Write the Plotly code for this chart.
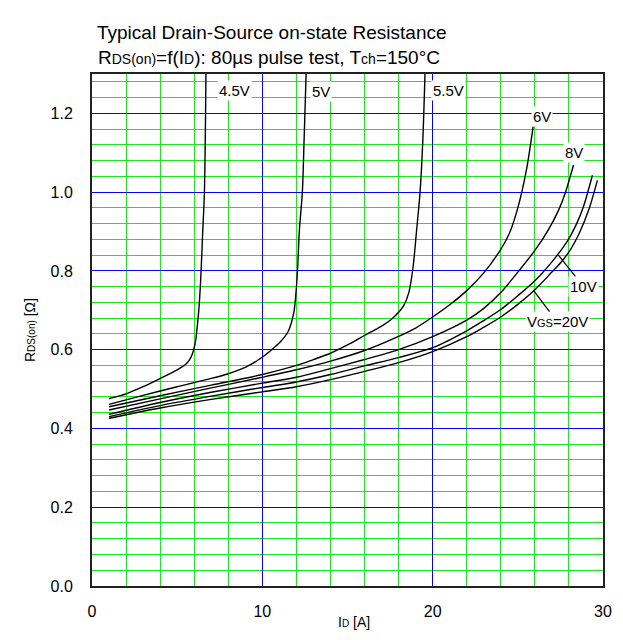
import plotly.graph_objects as go

# ---- data ----
x_45 = [1, 2, 3, 4, 5, 5.5, 5.8, 6.05, 6.25, 6.38, 6.5, 6.6, 6.69]
y_45 = [0.476, 0.488, 0.506, 0.527, 0.549, 0.563, 0.580, 0.615, 0.69, 0.777, 0.9, 1.0, 1.3]

x_5 = [1, 3, 5, 7, 8, 9, 9.8, 10.5, 11.1, 11.5, 11.85, 12.05, 12.17, 12.35, 12.45, 12.57]
y_5 = [0.461, 0.484, 0.506, 0.527, 0.539, 0.555, 0.575, 0.598, 0.622, 0.645, 0.695, 0.790, 0.9, 1.0, 1.13, 1.3]

x_55 = [1, 4, 7, 10, 12, 13, 14, 15, 16, 17, 17.6, 18.0, 18.3, 18.6, 18.85, 19.05, 19.26, 19.42, 19.55]
y_55 = [0.455, 0.483, 0.510, 0.537, 0.560, 0.575, 0.591, 0.612, 0.636, 0.660, 0.678, 0.695, 0.712, 0.745, 0.810, 0.900, 1.0, 1.13, 1.3]

x_6 = [1, 4, 7, 10, 12, 14, 16, 18, 19, 20, 21, 22, 23, 24, 24.5, 25, 25.5, 25.9]
y_6 = [0.447, 0.475, 0.503, 0.530, 0.549, 0.571, 0.598, 0.634, 0.655, 0.683, 0.714, 0.750, 0.795, 0.855, 0.895, 0.960, 1.055, 1.167]

x_8 = [1, 4, 7, 10, 12, 14, 16, 18, 20, 22, 23, 24, 25, 26, 26.8, 27.4, 27.8, 28.27]
y_8 = [0.436, 0.466, 0.492, 0.515, 0.530, 0.552, 0.575, 0.600, 0.633, 0.675, 0.705, 0.745, 0.797, 0.852, 0.905, 0.955, 1.0, 1.069]

x_10 = [1, 4, 7, 10, 12, 14, 16, 18, 20, 22, 23, 24, 25, 26, 27, 27.9, 28.4, 28.85, 29.38]
y_10 = [0.430, 0.458, 0.482, 0.504, 0.518, 0.537, 0.559, 0.580, 0.605, 0.648, 0.674, 0.702, 0.737, 0.775, 0.823, 0.875, 0.915, 0.963, 1.043]

x_20 = [1, 4, 7, 10, 12, 14, 16, 18, 20, 22, 23, 24, 25, 26, 27, 27.5, 28.1, 28.6, 29.2, 29.67]
y_20 = [0.426, 0.452, 0.474, 0.493, 0.506, 0.524, 0.545, 0.567, 0.595, 0.633, 0.657, 0.683, 0.715, 0.752, 0.797, 0.820, 0.855, 0.895, 0.960, 1.03]

series_x = [x_45, x_5, x_55, x_6, x_8, x_10, x_20]
series_y = [y_45, y_5, y_55, y_6, y_8, y_10, y_20]
series_names = ["4.5V", "5V", "5.5V", "6V", "8V", "10V", "V<span style='font-size:11px'>GS</span>=20V"]

x_tickvals = [0, 10, 20, 30]
y_tickvals = [0.0, 0.2, 0.4, 0.6, 0.8, 1.0, 1.2]

# label positions (data coords) for curve labels
label_x = [8.35, 13.45, 20.95, 26.4, 28.27, 28.85, 27.3]
label_y = [1.259, 1.255, 1.259, 1.193, 1.10, 0.761, 0.671]
# leader-line tips for the 10V and 20V labels
lead_x = [None, None, None, None, None, 27.38, 25.91]
lead_y = [None, None, None, None, None, 0.84, 0.751]

FONT = "Liberation Sans, Arial, sans-serif"
GREEN = "#1ee61e"
BLUE = "#0000ff"

fig = go.Figure()
for xs, ys in zip(series_x, series_y):
    fig.add_trace(go.Scatter(x=xs, y=ys, mode="lines",
                             line=dict(color="black", width=1.4, shape="spline", smoothing=0.8),
                             showlegend=False, hoverinfo="skip"))

annotations = []
for i, name in enumerate(series_names):
    if lead_x[i] is None:
        annotations.append(dict(x=label_x[i], y=label_y[i], xref="x", yref="y", text=name,
                                showarrow=False, bgcolor="white", borderpad=1,
                                font=dict(size=15, color="black", family=FONT)))
    else:
        annotations.append(dict(x=lead_x[i], y=lead_y[i], xref="x", yref="y",
                                ax=label_x[i], ay=label_y[i], axref="x", ayref="y",
                                text=name, showarrow=True, arrowhead=0, arrowwidth=1.2,
                                arrowcolor="black", bgcolor="white", borderpad=1,
                                font=dict(size=15, color="black", family=FONT)))

# titles (positions given in window pixels)
annotations.append(dict(x=272, y=20, xref="paper", yref="paper", text="Typical Drain-Source on-state Resistance",
                        showarrow=False, font=dict(size=19, color="black", family=FONT)))
annotations.append(dict(text="R<span style='font-size:14px'>DS(on)</span>=f(I<span style='font-size:14px'>D</span>): 80µs pulse test, T<span style='font-size:14px'>ch</span>=150°C",
                        x=269, y=45, xref="paper", yref="paper", showarrow=False,
                        font=dict(size=19, color="black", family=FONT)))
annotations.append(dict(text="I<span style='font-size:10px'>D</span> [A]", x=354, y=632, xref="paper", yref="paper",
                        showarrow=False, font=dict(size=14, color="black", family=FONT)))
annotations.append(dict(text="R<span style='font-size:10px'>DS(on)</span> [Ω]", x=20, y=330, xref="paper", yref="paper",
                        textangle=-90, showarrow=False, font=dict(size=14, color="black", family=FONT)))

# plot area in window pixels; page body has an 8px margin
OFF = 8
L, R, T, B = 92, 603, 74, 586
for a in annotations[-4:]:
    a["x"] = (a["x"] - L) / (R - L)
    a["y"] = (B - a["y"]) / (B - T)

W, H = 623 - OFF, 640 - OFF
fig.update_layout(
    width=W, height=H,
    margin=dict(l=L - OFF, r=W - (R - OFF), t=T - OFF, b=H - (B - OFF), autoexpand=False),
    paper_bgcolor="white", plot_bgcolor="white",
    font=dict(family=FONT, size=16, color="black"),
    annotations=annotations,
    showlegend=False,
)
fig.update_xaxes(range=[0, 30], tickvals=x_tickvals, ticks="", ticklabelstandoff=10,
                 showgrid=True, gridcolor=BLUE, gridwidth=1.2,
                 minor=dict(dtick=2, tick0=0, showgrid=True, gridcolor=GREEN, gridwidth=1.2),
                 showline=True, linecolor="#222", linewidth=2, mirror=True, zeroline=False,
                 tickfont=dict(size=16, family=FONT))
fig.update_yaxes(range=[0, 1.3], tickvals=y_tickvals, tickformat=".1f", ticks="", ticklabelstandoff=14,
                 showgrid=True, gridcolor=BLUE, gridwidth=1.2,
                 minor=dict(dtick=0.04, tick0=0, showgrid=True, gridcolor=GREEN, gridwidth=1.2),
                 showline=True, linecolor="#222", linewidth=2, mirror=True, zeroline=False,
                 tickfont=dict(size=16, family=FONT))

fig.write_html("out.html")
